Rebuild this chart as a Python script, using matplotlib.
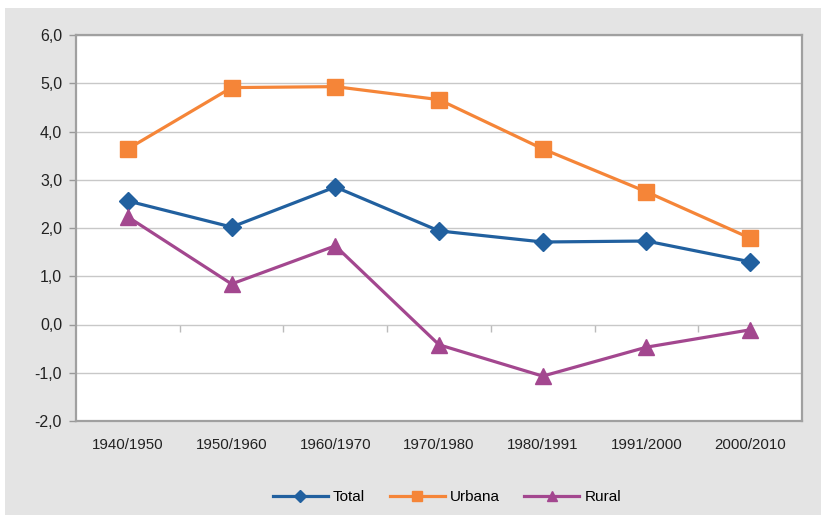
import numpy as np
import matplotlib
matplotlib.use('Agg')
import matplotlib.pyplot as plt
from matplotlib.patches import Rectangle
from matplotlib.ticker import FuncFormatter

periods = ['1940/1950', '1950/1960', '1960/1970', '1970/1980', '1980/1991', '1991/2000', '2000/2010']
total = [2.56, 2.02, 2.85, 1.94, 1.71, 1.73, 1.30]
urbana = [3.64, 4.91, 4.93, 4.66, 3.64, 2.75, 1.79]
rural = [2.23, 0.84, 1.63, -0.42, -1.07, -0.47, -0.11]

plt.rcParams['font.family'] = ['Liberation Sans', 'DejaVu Sans']

fig = plt.figure(figsize=(8.21, 5.15), dpi=100)
fig.patch.set_facecolor('white')
# gray chart-area background
fig.add_artist(Rectangle((5 / 821, 0.0), 1 - 5 / 821, (515 - 8) / 515,
                         transform=fig.transFigure, facecolor='#e4e4e4',
                         edgecolor='none', zorder=-10))

ax = fig.add_axes([76 / 821, 1 - 421 / 515, 726 / 821, 386 / 515])
ax.set_facecolor('white')

x = np.arange(len(periods))
ax.plot(x, total, color='#21609f', linewidth=2.3, marker='D', markersize=9,
        label='Total', zorder=3)
ax.plot(x, urbana, color='#f58538', linewidth=2.3, marker='s', markersize=11,
        label='Urbana', zorder=3)
ax.plot(x, rural, color='#a3478f', linewidth=2.3, marker='^', markersize=11,
        label='Rural', zorder=3)

ax.set_xlim(-0.5, len(periods) - 0.5)
ax.set_ylim(-2, 6)
ax.set_yticks(np.arange(-2, 7, 1))
ax.yaxis.set_major_formatter(FuncFormatter(lambda v, p: f'{v:.1f}'.replace('.', ',')))
ax.grid(axis='y', color='#c8c8c8', linewidth=1)
ax.set_axisbelow(True)

ax.set_xticks(x)
ax.set_xticklabels(periods)
ax.tick_params(axis='x', length=0, pad=12, labelsize=10.8, labelcolor='#222222')
ax.tick_params(axis='y', length=5, width=1, color='#999999', pad=5,
               labelsize=11.5, labelcolor='#222222')

for s in ax.spines.values():
    s.set_color('#a0a0a0')
    s.set_linewidth(1.6)

# category separator ticks on the zero line
sec = ax.secondary_xaxis(0.25)
sec.set_xticks(np.arange(0.5, len(periods) - 1, 1))
sec.set_xticklabels([])
sec.spines['bottom'].set_visible(False)
sec.tick_params(axis='x', direction='out', length=5, width=1, color='#bbbbbb')

ax.legend(loc='center', bbox_to_anchor=(447 / 821, 1 - 497 / 515),
          bbox_transform=fig.transFigure, ncol=3, frameon=False,
          fontsize=11, handlelength=3.6, columnspacing=1.6, handletextpad=0.35,
          markerscale=0.7)

fig.savefig('out.png', dpi=100, facecolor=fig.get_facecolor())
